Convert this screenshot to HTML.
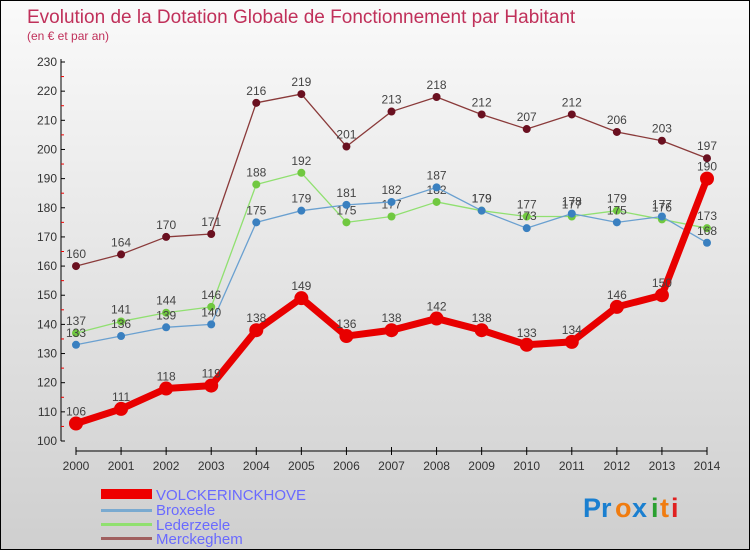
<!DOCTYPE html>
<html><head><meta charset="utf-8"><style>
body{margin:0}
#c{width:748px;height:548px;border:1px solid #000;background:linear-gradient(#fafafa,#cfcfcf);position:relative;overflow:hidden;font-family:"Liberation Sans",sans-serif}
</style></head><body>
<div id="c">
<svg width="748" height="548" id="svg" style="position:absolute;left:0;top:0">
<text x="26" y="22" font-size="19" fill="#c0305a">Evolution de la Dotation Globale de Fonctionnement par Habitant</text>
<text x="26" y="39" font-size="12" fill="#c0305a">(en € et par an)</text>
<g id="axes"></g><g id="series"></g>
<g>
<rect x="100" y="488" width="51" height="10" fill="#e00"/>
<text x="155" y="499" font-size="15" fill="#6a6aff">VOLCKERINCKHOVE</text>
<rect x="100" y="508" width="51" height="3" fill="#7aaad0"/>
<text x="155" y="514" font-size="15" fill="#6a6aff">Broxeele</text>
<rect x="100" y="522" width="51" height="3" fill="#90e070"/>
<text x="155" y="529" font-size="15" fill="#6a6aff">Lederzeele</text>
<rect x="100" y="536" width="51" height="3" fill="#a06060"/>
<text x="155" y="543" font-size="15" fill="#6a6aff">Merckeghem</text>
</g>
<g font-size="27" font-weight="bold">
<text x="582" y="516" fill="#1a7fd0">Pr</text><text x="614" y="516" fill="#f07c10">o</text><text x="631" y="516" fill="#1a7fd0">x</text><text x="650" y="516" fill="#2aa030">i</text><text x="659" y="516" fill="#f07c10">t</text><text x="670" y="516" fill="#e02020">i</text>
</g>
</svg>
</div>
<script>
const years=["2000","2001","2002","2003","2004","2005","2006","2007","2008","2009","2010","2011","2012","2013","2014"];
const yTicks=[100,110,120,130,140,150,160,170,180,190,200,210,220,230];
const volck=[106,111,118,119,138,149,136,138,142,138,133,134,146,150,190];
const brox=[133,136,139,140,175,179,181,182,187,179,173,178,175,177,168];
const leder=[137,141,144,146,188,192,175,177,182,179,177,177,179,176,173];
const merck=[160,164,170,171,216,219,201,213,218,212,207,212,206,203,197];
const NS="http://www.w3.org/2000/svg";
function X(i){return 75+i*(706-75)/14;}
function Y(v){return 440-(v-100)*(440-61)/130;}
function mk(t,a,p){const e=document.createElementNS(NS,t);for(const k in a)e.setAttribute(k,a[k]);p.appendChild(e);return e;}
const ax=document.getElementById('axes');
const yl=mk('line',{x1:60,y1:58,x2:60,y2:440,stroke:'#000'},ax);


yTicks.forEach(v=>{
 mk('line',{x1:60,y1:Y(v),x2:64,y2:Y(v),stroke:'#000'},ax);
 if(v<230)mk('line',{x1:60,y1:Y(v+5),x2:63,y2:Y(v+5),stroke:'#e00'},ax);
 const t=mk('text',{x:56,y:Y(v)+4,'font-size':12,fill:'#333','text-anchor':'end'},ax);t.textContent=v;
 
 
});
const xl=mk('line',{x1:75,y1:450,x2:706,y2:450,stroke:'#000'},ax);


years.forEach((y,i)=>{
 mk('line',{x1:X(i),y1:446,x2:X(i),y2:454,stroke:'#000'},ax);
 const t=mk('text',{x:X(i),y:469,'font-size':12,fill:'#333','text-anchor':'middle'},ax);t.textContent=y;
 
 
});
const sg=document.getElementById('series');
function draw(vals,color,dot,w,r,name,fs){
 const g=mk('g',{},sg);
 
 
 mk('polyline',{points:vals.map((v,i)=>X(i)+','+Y(v)).join(' '),fill:'none',stroke:color,'stroke-width':w,'stroke-linejoin':'round'},g);
 vals.forEach((v,i)=>{
  const c=mk('circle',{cx:X(i),cy:Y(v),r:r,fill:dot},g);
  
  
  const t=mk('text',{x:X(i),y:Y(v)-8,'font-size':fs,fill:'#444','text-anchor':'middle'},g);t.textContent=v;
  
  
 });
}
draw(merck,'#8a3a3a','#6a1020',1.3,4,'merckeghem',12);
draw(leder,'#90e070','#70c840',1.3,4,'lederzeele',12);
draw(brox,'#6aa0d0','#3a80c0',1.3,4,'broxeele',12);
draw(volck,'#e80000','#e80000',7,7,'volckerinckhove',12);
</script>
</body></html>
